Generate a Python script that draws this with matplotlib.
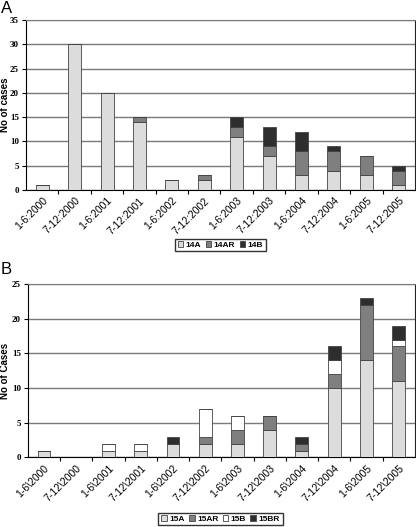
import matplotlib.pyplot as plt
import numpy as np

periods = ['1-6', '7-12'] * 6
years = [y for y in range(2000, 2006) for _ in range(2)]
labels_a = ['{0}:{1}'.format(p, y) for p, y in zip(periods, years)]
labels_b = ['{0}\\{1}'.format(p, y) for p, y in zip(periods, years)]

s14A = [1, 30, 20, 14, 2, 2, 11, 7, 3, 4, 3, 1]
s14AR = [0, 0, 0, 1, 0, 1, 2, 2, 5, 4, 4, 3]
s14B = [0, 0, 0, 0, 0, 0, 2, 4, 4, 1, 0, 1]

s15A = [1, 0, 1, 1, 2, 2, 2, 4, 1, 10, 14, 11]
s15AR = [0, 0, 0, 0, 0, 1, 2, 2, 1, 2, 8, 5]
s15B = [0, 0, 1, 1, 0, 4, 2, 0, 0, 2, 0, 1]
s15BR = [0, 0, 0, 0, 1, 0, 0, 0, 1, 2, 1, 2]

light = '#dcdcdc'
mid = '#7f7f7f'
dark = '#2e2e2e'
white = '#ffffff'

plt.rcParams['font.family'] = ['Liberation Sans', 'DejaVu Sans']

fig = plt.figure(figsize=(4.16, 5.27), dpi=100)


def draw(ax, series, names, colors, labels, ymax, ylabel, legend_y, label_x):
    x = np.arange(len(labels))
    bottom = np.zeros(len(labels))
    handles = []
    for vals, name, col in zip(series, names, colors):
        vals = np.array(vals)
        h = ax.bar(x, vals, 0.4, bottom=bottom, color=col, edgecolor='#444444',
                   linewidth=0.6, label=name, zorder=3)
        handles.append(h)
        bottom = bottom + vals
    ax.set_xlim(-0.5, len(labels) - 0.5)
    ax.set_ylim(0, ymax)
    ax.set_yticks(range(0, ymax + 1, 5))
    ax.yaxis.grid(True, color='#7a7a7a', linewidth=1.0, zorder=0)
    ax.set_axisbelow(True)
    for lab in ax.get_yticklabels():
        lab.set_family('Liberation Serif')
        lab.set_fontweight('bold')
        lab.set_fontsize(6.5)
    ax.tick_params(axis='y', length=3, width=0.8, pad=2)
    ax.set_xticks(x)
    ax.set_xticklabels(labels, rotation=45, ha='right', rotation_mode='anchor', fontsize=7.5)
    ax.tick_params(axis='x', which='major', length=0, pad=4)
    ax.set_xticks(x[:-1] + 0.5, minor=True)
    ax.tick_params(axis='x', which='minor', length=3, width=0.8)
    ax.spines['top'].set_color('#7a7a7a')
    ax.spines['right'].set_color('#222222')
    ax.set_ylabel(ylabel, fontsize=7, fontweight='bold')
    ax.yaxis.set_label_coords(label_x, 0.5)
    fig.legend(handles=handles, loc='center', bbox_to_anchor=(0.53, legend_y), ncol=len(names),
               frameon=True, fancybox=False, edgecolor='black', handlelength=0.7,
               handleheight=0.7, handletextpad=0.3, columnspacing=0.5, borderpad=0.3,
               borderaxespad=0, prop={'weight': 'bold', 'size': 6})


axA = fig.add_axes([0.0625, 0.6395, 0.935, 0.3226])
draw(axA, [s14A, s14AR, s14B], ['14A', '14AR', '14B'], [light, mid, dark],
     labels_a, 35, 'No of cases', 1 - 245 / 527, -0.04)

axB = fig.add_axes([0.067, 0.132, 0.93, 0.329])
draw(axB, [s15A, s15AR, s15B, s15BR], ['15A', '15AR', '15B', '15BR'], [light, mid, white, dark],
     labels_b, 25, 'No of Cases', 1 - 519 / 527, -0.045)

fig.text(0.002, 0.999, 'A', fontsize=12, va='top', ha='left')
fig.text(0.002, 0.503, 'B', fontsize=12, va='top', ha='left')

fig.savefig('out.png', dpi=100)
